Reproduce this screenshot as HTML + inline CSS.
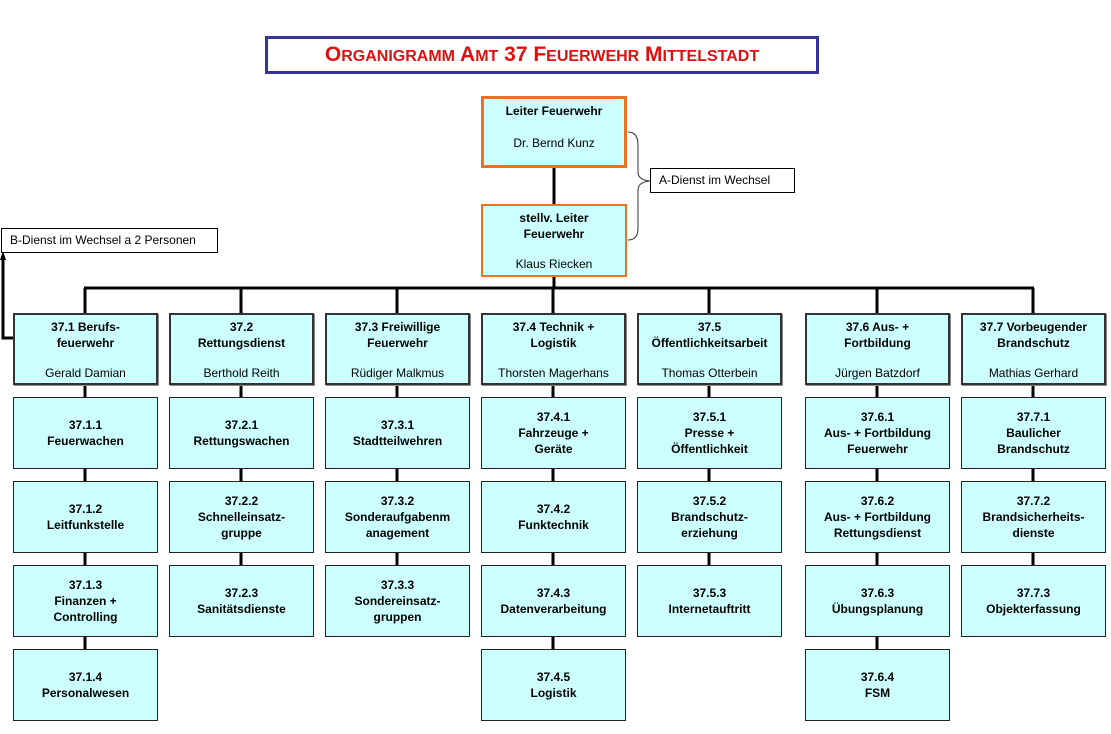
<!DOCTYPE html>
<html><head><meta charset="utf-8"><style>
body{margin:0;width:1111px;height:734px;background:#fff;position:relative;overflow:hidden;font-family:"Liberation Sans",Arial,sans-serif}
.b{position:absolute;box-sizing:border-box;background:#ccffff;text-align:center;font-size:12px;color:#000;display:flex;flex-direction:column;justify-content:center;line-height:16px}
.d{border:2px solid #333;box-shadow:1px 1px 0 #888;justify-content:flex-start;padding-top:4px}
.s{border:1px solid #222;font-weight:bold}
.o{border:3px solid #f07020;justify-content:flex-start}
.n{font-weight:normal}
.t{font-weight:bold}
.lab{position:absolute;box-sizing:border-box;border:1px solid #000;background:#fff;font-size:12px;line-height:22px;padding-left:8px}
svg{position:absolute;left:0;top:0}
</style></head><body>
<svg width="1111" height="734">
<g stroke="#000" stroke-width="3" fill="none">
<line x1="554" y1="168" x2="554" y2="205"/>
<line x1="554" y1="276" x2="554" y2="288"/>
<line x1="84" y1="288" x2="1034" y2="288"/>
<line x1="85" y1="288" x2="85" y2="700"/>
<line x1="241" y1="288" x2="241" y2="600"/>
<line x1="397" y1="288" x2="397" y2="600"/>
<line x1="553" y1="288" x2="553" y2="700"/>
<line x1="709" y1="288" x2="709" y2="600"/>
<line x1="877" y1="288" x2="877" y2="700"/>
<line x1="1033" y1="288" x2="1033" y2="600"/>
<polyline points="14,338 3,338 3,258"/>
</g>
<polygon points="3,251 0,260 6,260" fill="#000"/>
<path d="M628,132 Q638,132 638,145 L638,172 Q638,180 650,181 Q638,182 638,190 L638,228 Q638,240 628,240" stroke="#333" stroke-width="1" fill="none"/>
</svg>
<div style="position:absolute;left:265px;top:36px;width:554px;height:38px;box-sizing:border-box;border:3px solid #333399;text-align:center;line-height:32px;color:#e01010;font-weight:bold;font-size:21px">O<span style="font-size:16px">RGANIGRAMM</span> A<span style="font-size:16px">MT</span> 37 F<span style="font-size:16px">EUERWEHR</span> M<span style="font-size:16px">ITTELSTADT</span></div>
<div class="b o" style="left:481px;top:96px;width:146px;height:72px;padding-top:4px"><div class="t">Leiter Feuerwehr</div><div style="height:16px"></div><div>Dr. Bernd Kunz</div></div>
<div class="b o" style="left:481px;top:204px;width:146px;height:73px;border-width:2px;padding-top:4px"><div class="t">stellv. Leiter<br>Feuerwehr</div><div style="height:14px"></div><div>Klaus Riecken</div></div>
<div class="lab" style="left:650px;top:168px;width:145px;height:25px">A-Dienst im Wechsel</div>
<div class="lab" style="left:1px;top:228px;width:217px;height:25px">B-Dienst im Wechsel a 2 Personen</div>

<div class="b d" style="left:13px;top:313px;width:145px;height:72px"><div class="t">37.1 Berufs-<br>feuerwehr</div><div style="height:14px"></div><div>Gerald Damian</div></div>
<div class="b d" style="left:169px;top:313px;width:145px;height:72px"><div class="t">37.2<br>Rettungsdienst</div><div style="height:14px"></div><div>Berthold Reith</div></div>
<div class="b d" style="left:325px;top:313px;width:145px;height:72px"><div class="t">37.3 Freiwillige<br>Feuerwehr</div><div style="height:14px"></div><div>Rüdiger Malkmus</div></div>
<div class="b d" style="left:481px;top:313px;width:145px;height:72px"><div class="t">37.4 Technik +<br>Logistik</div><div style="height:14px"></div><div>Thorsten Magerhans</div></div>
<div class="b d" style="left:637px;top:313px;width:145px;height:72px"><div class="t">37.5<br>Öffentlichkeitsarbeit</div><div style="height:14px"></div><div>Thomas Otterbein</div></div>
<div class="b d" style="left:805px;top:313px;width:145px;height:72px"><div class="t">37.6 Aus- +<br>Fortbildung</div><div style="height:14px"></div><div>Jürgen Batzdorf</div></div>
<div class="b d" style="left:961px;top:313px;width:145px;height:72px"><div class="t">37.7 Vorbeugender<br>Brandschutz</div><div style="height:14px"></div><div>Mathias Gerhard</div></div>

<div class="b s" style="left:13px;top:397px;width:145px;height:72px">37.1.1<br>Feuerwachen</div>
<div class="b s" style="left:13px;top:481px;width:145px;height:72px">37.1.2<br>Leitfunkstelle</div>
<div class="b s" style="left:13px;top:565px;width:145px;height:72px">37.1.3<br>Finanzen +<br>Controlling</div>
<div class="b s" style="left:13px;top:649px;width:145px;height:72px">37.1.4<br>Personalwesen</div>

<div class="b s" style="left:169px;top:397px;width:145px;height:72px">37.2.1<br>Rettungswachen</div>
<div class="b s" style="left:169px;top:481px;width:145px;height:72px">37.2.2<br>Schnelleinsatz-<br>gruppe</div>
<div class="b s" style="left:169px;top:565px;width:145px;height:72px">37.2.3<br>Sanitätsdienste</div>

<div class="b s" style="left:325px;top:397px;width:145px;height:72px">37.3.1<br>Stadtteilwehren</div>
<div class="b s" style="left:325px;top:481px;width:145px;height:72px">37.3.2<br>Sonderaufgabenm<br>anagement</div>
<div class="b s" style="left:325px;top:565px;width:145px;height:72px">37.3.3<br>Sondereinsatz-<br>gruppen</div>

<div class="b s" style="left:481px;top:397px;width:145px;height:72px">37.4.1<br>Fahrzeuge +<br>Geräte</div>
<div class="b s" style="left:481px;top:481px;width:145px;height:72px">37.4.2<br>Funktechnik</div>
<div class="b s" style="left:481px;top:565px;width:145px;height:72px">37.4.3<br>Datenverarbeitung</div>
<div class="b s" style="left:481px;top:649px;width:145px;height:72px">37.4.5<br>Logistik</div>

<div class="b s" style="left:637px;top:397px;width:145px;height:72px">37.5.1<br>Presse +<br>Öffentlichkeit</div>
<div class="b s" style="left:637px;top:481px;width:145px;height:72px">37.5.2<br>Brandschutz-<br>erziehung</div>
<div class="b s" style="left:637px;top:565px;width:145px;height:72px">37.5.3<br>Internetauftritt</div>

<div class="b s" style="left:805px;top:397px;width:145px;height:72px">37.6.1<br>Aus- + Fortbildung<br>Feuerwehr</div>
<div class="b s" style="left:805px;top:481px;width:145px;height:72px">37.6.2<br>Aus- + Fortbildung<br>Rettungsdienst</div>
<div class="b s" style="left:805px;top:565px;width:145px;height:72px">37.6.3<br>Übungsplanung</div>
<div class="b s" style="left:805px;top:649px;width:145px;height:72px">37.6.4<br>FSM</div>

<div class="b s" style="left:961px;top:397px;width:145px;height:72px">37.7.1<br>Baulicher<br>Brandschutz</div>
<div class="b s" style="left:961px;top:481px;width:145px;height:72px">37.7.2<br>Brandsicherheits-<br>dienste</div>
<div class="b s" style="left:961px;top:565px;width:145px;height:72px">37.7.3<br>Objekterfassung</div>
</body></html>
